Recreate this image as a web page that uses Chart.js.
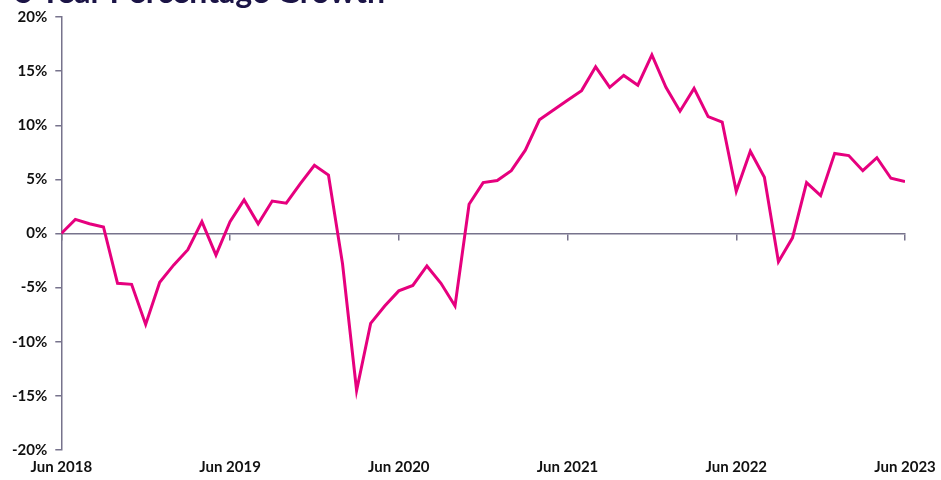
<!DOCTYPE html>
<html>
<head>
<meta charset="utf-8">
<script src="https://cdn.jsdelivr.net/npm/chart.js@4/dist/chart.umd.min.js"></script>
<style>
  html, body { margin: 0; padding: 0; background: #fff; overflow: hidden; }
  #wrap { position: relative; width: 941px; height: 480px; }
  #title {
    position: absolute; left: 15px; top: -24px;
    font: 700 32px Lato, sans-serif; line-height: 30px;
    color: #1b1446; white-space: nowrap;
  }
</style>
</head>
<body>
<div id="wrap">
  <div id="title">5 Year Percentage Growth</div>
  <canvas id="myChart" width="941" height="480"></canvas>
</div>
<script>
// mensal, Jun 2018 .. Jun 2023
const growth = [
  0, 1.3, 0.9, 0.6, -4.6, -4.7, -8.4, -4.5, -2.9, -1.5, 1.1, -2.0,
  1.1, 3.1, 0.9, 3.0, 2.8, 4.6, 6.3, 5.4, -2.8, -14.5, -8.3, -6.7,
  -5.3, -4.8, -3.0, -4.6, -6.7, 2.7, 4.7, 4.9, 5.8, 7.7, 10.5, 11.4,
  12.3, 13.2, 15.4, 13.5, 14.6, 13.7, 16.5, 13.5, 11.3, 13.4, 10.8, 10.3,
  3.9, 7.6, 5.2, -2.6, -0.4, 4.7, 3.5, 7.4, 7.2, 5.8, 7.0, 5.1,
  4.8
];
const yearLabels = ['Jun 2018', 'Jun 2019', 'Jun 2020', 'Jun 2021', 'Jun 2022', 'Jun 2023'];
const yTicks = [-20, -15, -10, -5, 0, 5, 10, 15, 20];

const axisColor = '#77738c';
const tickFont = { family: 'Lato', size: 15, weight: '700' };

document.addEventListener('DOMContentLoaded', function () {
    const ctx = document.getElementById('myChart').getContext('2d');

    new Chart(ctx, {
        type: 'line',
        data: {
            datasets: [{
                data: growth.map((v, i) => ({ x: i, y: v })),
                borderColor: '#e6007e',
                borderWidth: 3,
                pointRadius: 0,
                tension: 0,
                fill: false
            }]
        },
        options: {
            responsive: false,
            animation: false,
            layout: { padding: { top: 12, right: 36, left: 4, bottom: 4 } },
            plugins: { legend: { display: false }, tooltip: { enabled: false } },
            scales: {
                // linha do zero com os tracinhos dos anos
                x: {
                    type: 'linear',
                    position: { y: 0 },
                    min: 0, max: 60,
                    ticks: { stepSize: 12, display: false },
                    grid: { drawOnChartArea: false, tickLength: 6, color: axisColor, lineWidth: 1.5 },
                    border: { color: axisColor, width: 1.5 }
                },
                // rótulos dos anos em baixo
                x2: {
                    type: 'linear',
                    position: 'bottom',
                    min: 0, max: 60,
                    ticks: {
                        stepSize: 12,
                        color: '#111',
                        font: tickFont,
                        padding: 0,
                        maxRotation: 0,
                        callback: v => yearLabels[v / 12]
                    },
                    grid: { display: false },
                    border: { display: false }
                },
                y: {
                    min: -20, max: 20,
                    afterBuildTicks: axis => { axis.ticks = yTicks.map(v => ({ value: v })); },
                    ticks: {
                        color: '#111',
                        font: tickFont,
                        padding: 8,
                        callback: v => v + '%'
                    },
                    grid: { drawOnChartArea: false, tickLength: 6, color: axisColor, lineWidth: 1.5 },
                    border: { color: axisColor, width: 1.5 }
                }
            }
        }
    });
});
</script>
</body>
</html>
